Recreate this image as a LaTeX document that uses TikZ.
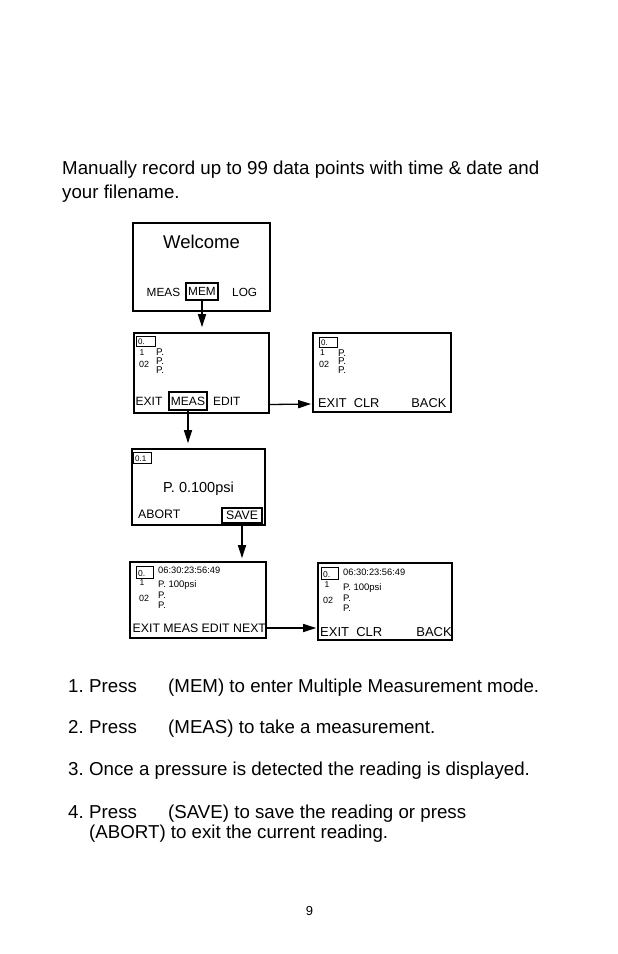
\documentclass[tikz,border=0pt]{standalone}
\usepackage{fontspec}
\setmainfont{Liberation Sans}
\usetikzlibrary{arrows.meta,calc}
\newcommand{\fs}[1]{\fontsize{#1}{#1}\selectfont}
\begin{document}
\begin{tikzpicture}[x=1pt,y=-1pt,
  scr/.style={draw,line width=1.6pt,inner sep=0pt},
  keybox/.style={draw,line width=1.4pt,inner sep=0pt},
  idx/.style={draw,line width=1.3pt,inner sep=0pt,anchor=north west},
  txt/.style={inner sep=0pt,anchor=base west},
  arr/.style={-{Triangle[length=13pt,width=8pt]},line width=1.3pt}]
\useasboundingbox[fill=white] (0,0) rectangle (618,954);

% intro text
\node[txt,font=\fs{18.7}] (intro1) at (62,174) {Manually record up to 99 data points with time \& date and};
\node[txt,font=\fs{18.7}] (intro2) at (62,198) {your filename.};

% screen 1
\node[scr,minimum width=137pt,minimum height=88pt] (s1) at (201.5,267) {};
\node[inner sep=0pt,anchor=base,font=\fs{18.5}] (welcome) at (201.5,248) {Welcome};
\node[txt,font=\fs{11.8}] (m1) at (146.5,296) {MEAS};
\node[keybox,minimum width=32pt,minimum height=17pt,font=\fs{11.8}] (mem) at (202,291.5) {MEM};
\node[txt,font=\fs{11.8}] (log) at (232,296) {LOG};

% screen 2
\node[scr,minimum width=135pt,minimum height=80pt] (s2) at (201.5,373) {};
\node[idx,minimum width=19pt,minimum height=10pt] (i2) at (136,336) {};
\node[txt,font=\fs{8}] (i2t) at (138,344.5) {0.};
\node[txt,font=\fs{8.5}] (n2a) at (139.5,355.5) {1};
\node[txt,font=\fs{9.8}] (p2a) at (156,355.5) {P.};
\node[txt,font=\fs{9}] (n2b) at (139,367.5) {02};
\node[txt,font=\fs{9.8}] (p2b) at (156,364.5) {P.};
\node[txt,font=\fs{9.8}] (p2c) at (156,373.5) {P.};
\node[txt,font=\fs{12}] (exit2) at (135.5,405) {EXIT};
\node[keybox,minimum width=38pt,minimum height=18pt,font=\fs{12}] (meas2) at (188,401) {MEAS};
\node[txt,font=\fs{12}] (edit2) at (213,405) {EDIT};

% screen 3
\node[scr,minimum width=138pt,minimum height=79pt] (s3) at (382,372.5) {};
\node[idx,minimum width=18pt,minimum height=10pt] (i3) at (319,337) {};
\node[txt,font=\fs{8}] (i3t) at (321,345) {0.};
\node[txt,font=\fs{8.5}] (n3a) at (320,355.5) {1};
\node[txt,font=\fs{9.8}] (p3a) at (338,356) {P.};
\node[txt,font=\fs{9}] (n3b) at (319,367.5) {02};
\node[txt,font=\fs{9.8}] (p3b) at (338,364.5) {P.};
\node[txt,font=\fs{9.8}] (p3c) at (338,373.5) {P.};
\node[txt,font=\fs{12.8}] (exit3) at (318,407) {EXIT\ \ CLR};
\node[inner sep=0pt,anchor=base east,font=\fs{12.8}] (back3) at (446.5,407) {BACK};

% screen 4
\node[scr,minimum width=133pt,minimum height=76pt] (s4) at (198.5,487) {};
\node[idx,minimum width=18pt,minimum height=11pt] (i4) at (133,452) {};
\node[txt,font=\fs{8}] (i4t) at (135,461) {0.1};
\node[inner sep=0pt,anchor=base,font=\fs{14.5}] (read4) at (198.5,492) {P. 0.100psi};
\node[txt,font=\fs{12.3}] (abort) at (138,518) {ABORT};
\node[keybox,minimum width=40pt,minimum height=15pt,font=\fs{12.3}] (save) at (242,515.5) {SAVE};

% screen 5
\node[scr,minimum width=136pt,minimum height=76pt] (s5) at (198,600) {};
\node[idx,minimum width=17pt,minimum height=12pt] (i5) at (136,566) {};
\node[txt,font=\fs{8.5}] (i5t) at (138,576) {0.};
\node[txt,font=\fs{9.3}] (ts5) at (158,573) {06:30:23:56:49};
\node[txt,font=\fs{8.5}] (n5a) at (139.5,585.5) {1};
\node[txt,font=\fs{9.5}] (p5a) at (158,587.5) {P. 100psi};
\node[txt,font=\fs{9}] (n5b) at (139,601.5) {02};
\node[txt,font=\fs{9.5}] (p5b) at (158,598.5) {P.};
\node[txt,font=\fs{9.5}] (p5c) at (158,608.5) {P.};
\node[txt,font=\fs{12.3}] (keys5) at (132.5,632) {EXIT MEAS EDIT NEXT};

% screen 6
\node[scr,minimum width=134pt,minimum height=77pt] (s6) at (385,601.5) {};
\node[idx,minimum width=17pt,minimum height=12pt] (i6) at (321,567) {};
\node[txt,font=\fs{8.5}] (i6t) at (323,577) {0.};
\node[txt,font=\fs{9.3}] (ts6) at (343,575) {06:30:23:56:49};
\node[txt,font=\fs{8.5}] (n6a) at (324.5,587.5) {1};
\node[txt,font=\fs{9.5}] (p6a) at (343,590.5) {P. 100psi};
\node[txt,font=\fs{9}] (n6b) at (323,603.5) {02};
\node[txt,font=\fs{9.5}] (p6b) at (343,601.5) {P.};
\node[txt,font=\fs{9.5}] (p6c) at (343,611.5) {P.};
\node[txt,font=\fs{13}] (exit6) at (320,636.5) {EXIT\ \ CLR};
\node[inner sep=0pt,anchor=base east,font=\fs{13}] (back6) at (452,636.5) {BACK};

% connectors
\draw[arr,shorten >=5pt] (mem.south) -- (mem.south |- s2.north);
\draw[arr,shorten >=5pt] (meas2.south) -- (meas2.south |- s4.north);
\draw[arr,shorten >=3pt] (save.south) -- (save.south |- s5.north);
\draw[arr,shorten >=1pt] ($(s2.east)+(0,31.5)$) -- ($(s3.west)+(0,31.5)$);
\draw[arr,shorten >=1pt] ($(s5.east)+(0,28)$) -- ($(s6.west)+(0,26.5)$);

% steps
\node[txt,font=\fs{18.7}] (st1n) at (68,692) {1.};
\node[txt,font=\fs{18.7}] (st1a) at (89,692) {Press};
\node[txt,font=\fs{18.7}] (st1b) at (168,692) {(MEM) to enter Multiple Measurement mode.};
\node[txt,font=\fs{18.7}] (st2n) at (68,733) {2.};
\node[txt,font=\fs{18.7}] (st2a) at (89,733) {Press};
\node[txt,font=\fs{18.7}] (st2b) at (168,733) {(MEAS) to take a measurement.};
\node[txt,font=\fs{18.7}] (st3n) at (68,775) {3.};
\node[txt,font=\fs{18.7}] (st3a) at (89,775) {Once a pressure is detected the reading is displayed.};
\node[txt,font=\fs{18.7}] (st4n) at (68,818) {4.};
\node[txt,font=\fs{18.7}] (st4a) at (89,818) {Press};
\node[txt,font=\fs{18.7}] (st4b) at (168,818) {(SAVE) to save the reading or press};
\node[txt,font=\fs{18.7}] (st4c) at (89,838) {(ABORT) to exit the current reading.};

% page number
\node[inner sep=0pt,anchor=base,font=\fs{13}] (page) at (309.5,915) {9};
\end{tikzpicture}
\end{document}
